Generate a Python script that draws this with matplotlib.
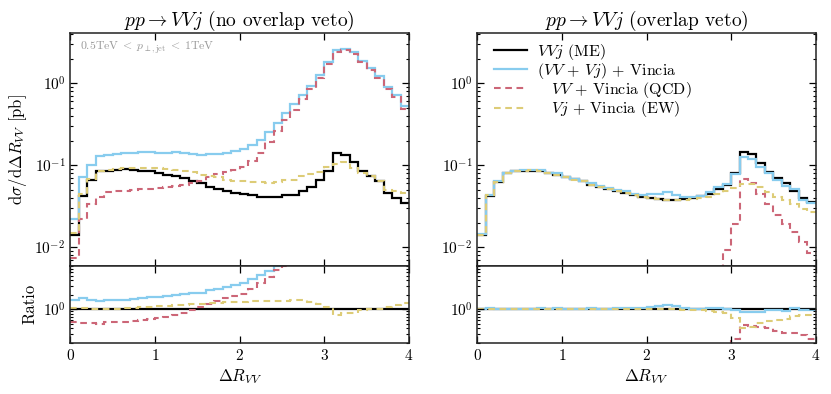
import numpy as np
import matplotlib
matplotlib.use("Agg")
import matplotlib.pyplot as plt
from matplotlib.lines import Line2D
from matplotlib.ticker import LogLocator, NullFormatter, FixedLocator

plt.rcParams.update({
    "font.family": "serif",
    "font.serif": ["cmr10", "DejaVu Serif"],
    "mathtext.fontset": "cm",
    "axes.formatter.use_mathtext": True,
    "axes.unicode_minus": False,
})

# bin edges of the Delta R_VV histograms
edges = np.linspace(0.0, 4.0, 41)

# ---- left panel: no overlap veto ----
me_L = [0.0142, 0.042, 0.066, 0.085, 0.086, 0.088, 0.089, 0.088, 0.086, 0.084,
        0.080, 0.077, 0.073, 0.069, 0.065, 0.060, 0.055, 0.052, 0.048, 0.046,
        0.045, 0.043, 0.041, 0.041, 0.041, 0.044, 0.044, 0.049, 0.055, 0.066,
        0.085, 0.142, 0.133, 0.110, 0.085, 0.073, 0.064, 0.046, 0.040, 0.035]
comb_L = [0.022, 0.071, 0.100, 0.128, 0.134, 0.138, 0.140, 0.143, 0.145, 0.147,
          0.140, 0.143, 0.147, 0.140, 0.138, 0.133, 0.138, 0.138, 0.142, 0.148,
          0.158, 0.179, 0.206, 0.256, 0.330, 0.429, 0.553, 0.720, 0.936, 1.26,
          1.81, 2.53, 2.63, 2.37, 1.88, 1.53, 1.21, 0.91, 0.72, 0.533]
qcd_L = [0.0075, 0.022, 0.034, 0.041, 0.047, 0.048, 0.049, 0.050, 0.051, 0.052,
         0.053, 0.054, 0.056, 0.058, 0.061, 0.065, 0.072, 0.078, 0.082, 0.087,
         0.095, 0.114, 0.142, 0.190, 0.262, 0.355, 0.475, 0.635, 0.845, 1.16,
         1.70, 2.42, 2.52, 2.28, 1.80, 1.45, 1.15, 0.86, 0.67, 0.49]
ew_L = [0.015, 0.045, 0.068, 0.086, 0.088, 0.090, 0.092, 0.093, 0.093, 0.092,
        0.092, 0.090, 0.088, 0.086, 0.082, 0.077, 0.074, 0.071, 0.067, 0.065,
        0.064, 0.063, 0.062, 0.061, 0.062, 0.066, 0.067, 0.075, 0.078, 0.083,
        0.095, 0.105, 0.110, 0.092, 0.081, 0.075, 0.064, 0.050, 0.048, 0.046]

# ---- right panel: overlap veto ----
me_R = [0.0141, 0.0426, 0.063, 0.0807, 0.0845, 0.086, 0.086, 0.084, 0.080, 0.0763,
        0.0714, 0.0675, 0.0638, 0.058, 0.055, 0.0514, 0.048, 0.0455, 0.043, 0.0414,
        0.0398, 0.0384, 0.0377, 0.0377, 0.0388, 0.0402, 0.0418, 0.0446, 0.0514, 0.0575,
        0.081, 0.147, 0.138, 0.107, 0.082, 0.070, 0.0603, 0.048, 0.0395, 0.0353]
comb_R = [0.0145, 0.044, 0.064, 0.081, 0.0845, 0.0878, 0.088, 0.087, 0.081, 0.080,
          0.0727, 0.068, 0.065, 0.0603, 0.0564, 0.0529, 0.050, 0.048, 0.045, 0.043,
          0.045, 0.045, 0.0468, 0.043, 0.041, 0.0405, 0.042, 0.0468, 0.0548, 0.0591,
          0.0784, 0.126, 0.118, 0.095, 0.0799, 0.066, 0.0564, 0.051, 0.038, 0.0345]
qcd_R = [0, 0, 0, 0, 0, 0, 0, 0, 0, 0,
         0, 0, 0, 0, 0, 0, 0, 0, 0, 0,
         0, 0, 0, 0, 0, 0, 0, 0, 0, 0.0092,
         0.0192, 0.068, 0.061, 0.045, 0.0335, 0.0245, 0.019, 0.0155, 0.0115, 0.0085]
ew_R = [0.0141, 0.043, 0.063, 0.081, 0.085, 0.086, 0.087, 0.084, 0.081, 0.076,
        0.072, 0.067, 0.064, 0.058, 0.055, 0.052, 0.048, 0.046, 0.043, 0.041,
        0.040, 0.0385, 0.038, 0.0375, 0.038, 0.039, 0.040, 0.041, 0.045, 0.048,
        0.0528, 0.0597, 0.0597, 0.0543, 0.0472, 0.041, 0.0373, 0.034, 0.0295, 0.0269]

titles = [r"$pp \to VVj$ (no overlap veto)", r"$pp \to VVj$ (overlap veto)"]
labels = [r"$VVj$ (ME)", r"$(VV\,+\,Vj)$ + Vincia",
          r"$\quad VV$ + Vincia (QCD)", r"$\quad Vj$ + Vincia (EW)"]
colors = ["black", "#88CCEE", "#CC6677", "#DDCC77"]
styles = ["-", "-", (0, (3.2, 2.2)), (0, (3.2, 2.2))]
widths = [1.6, 1.6, 1.5, 1.5]

fig = plt.figure(figsize=(8.31, 3.94), dpi=100)

W, H = 831.0, 394.0
lefts = [70.3, 477.3]
rights = [409.0, 815.7]
main_top, main_bot, ratio_bot = 33.3, 265.5, 342.7

panels = [(me_L, comb_L, qcd_L, ew_L), (me_R, comb_R, qcd_R, ew_R)]


def style_axis(ax):
    ax.tick_params(which="both", direction="in", top=True, right=True,
                   labelsize=11)
    ax.tick_params(which="major", length=5, width=0.9)
    ax.tick_params(which="minor", length=2.5, width=0.8)
    for s in ax.spines.values():
        s.set_linewidth(1.1)
        s.set_color("#222222")


for k, series in enumerate(panels):
    x0 = lefts[k] / W
    w = (rights[k] - lefts[k]) / W
    axm = fig.add_axes([x0, 1 - main_bot / H, w, (main_bot - main_top) / H])
    axr = fig.add_axes([x0, 1 - ratio_bot / H, w, (ratio_bot - main_bot) / H],
                       sharex=axm)
    me = np.asarray(series[0], dtype=float)
    for vals, c, ls, lw in zip(series, colors, styles, widths):
        v = np.asarray(vals, dtype=float)
        vplot = np.where(v > 0, v, 1e-6)
        axm.stairs(vplot, edges, baseline=None, color=c, ls=ls, lw=lw)
        r = v / me
        rplot = np.where(r > 0, r, 1e-6)
        axr.stairs(rplot, edges, baseline=None, color=c, ls=ls, lw=lw)

    axm.set_yscale("log")
    axm.set_ylim(6e-3, 4.06)
    axm.set_xlim(0, 4)
    axm.yaxis.set_major_locator(LogLocator(base=10, numticks=10))
    axm.yaxis.set_minor_locator(LogLocator(base=10, subs=np.arange(2, 10), numticks=10))
    axm.yaxis.set_minor_formatter(NullFormatter())
    axm.xaxis.set_major_locator(FixedLocator([0, 1, 2, 3, 4]))
    axm.tick_params(axis="x", labelbottom=False)
    axm.set_title(titles[k], fontsize=14, pad=4)
    style_axis(axm)

    axr.set_yscale("log")
    axr.set_ylim(0.2, 8.1)
    axr.yaxis.set_major_locator(LogLocator(base=10, numticks=10))
    axr.yaxis.set_minor_locator(LogLocator(base=10, subs=np.arange(2, 10), numticks=10))
    axr.yaxis.set_minor_formatter(NullFormatter())
    axr.set_xlabel(r"$\Delta R_{VV}$", fontsize=12, labelpad=3)
    style_axis(axr)

    if k == 0:
        axm.set_ylabel(r"$\mathrm{d}\sigma/\mathrm{d}\Delta R_{VV}$ [pb]", fontsize=12)
        axr.set_ylabel("Ratio", fontsize=12)
        axm.text(0.03, 0.975,
                 r"$0.5\mathrm{TeV}\;<\;p_{\perp,\mathrm{jet}}\;<\;1\mathrm{TeV}$",
                 transform=axm.transAxes, ha="left", va="top",
                 fontsize=8.5, color="#999999")
        fig.align_ylabels([axm, axr])
    else:
        handles = [Line2D([], [], color=c, ls=ls, lw=lw)
                   for c, ls, lw in zip(colors, styles, widths)]
        axm.legend(handles, labels, loc="upper left", frameon=False,
                   bbox_to_anchor=(0.035, 0.985), borderaxespad=0.0,
                   fontsize=11.5, handlelength=2.1, labelspacing=-0.05,
                   handletextpad=0.6, borderpad=0.3)

fig.savefig("out.png", dpi=100)
